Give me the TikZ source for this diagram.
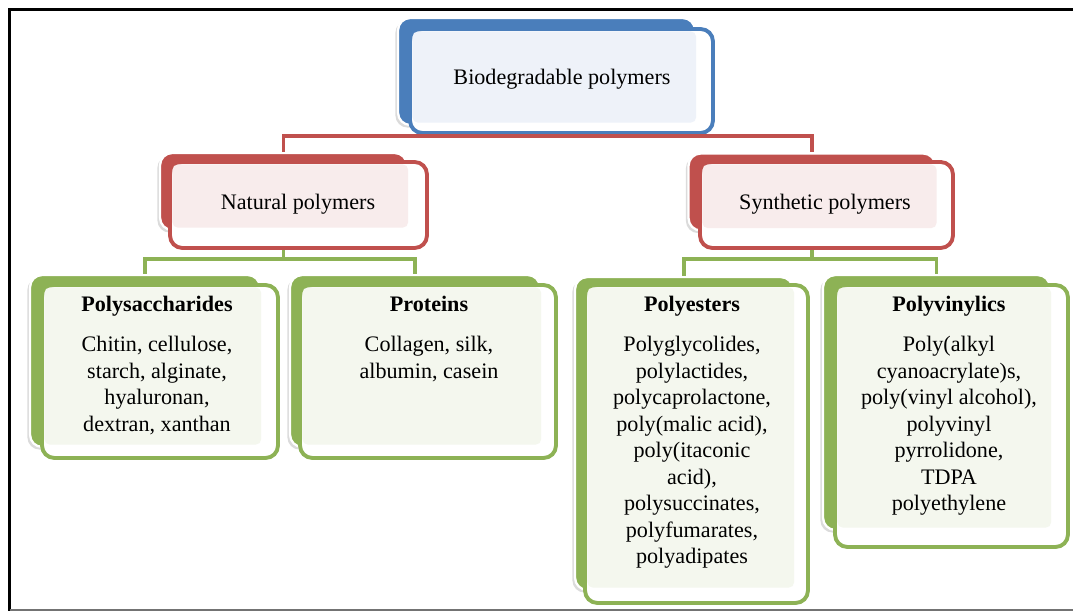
\documentclass[tikz,border=0pt]{standalone}
\usepackage{fontspec}
\setmainfont{Liberation Serif}
\usetikzlibrary{positioning}
\definecolor{topblue}{HTML}{4A7EBB}
\definecolor{topfill}{HTML}{EEF2F9}
\definecolor{midred}{HTML}{C0504D}
\definecolor{midfill}{HTML}{F8ECEC}
\definecolor{leafgreen}{HTML}{8DB255}
\definecolor{leaffill}{HTML}{F4F7EE}
\tikzset{back/.style={rectangle, rounded corners=7pt, draw=white, line width=1.3pt,
                      preaction={fill=black!14, transform canvas={xshift=-1.5pt, yshift=-1.5pt}}},
         front/.style={rectangle, rounded corners=7pt, fill=white, line width=2.2pt},
         tint/.style={rounded corners=3pt},
         lbl/.style={align=center, inner sep=0pt, font=\fontsize{12.6}{15.1}\selectfont},
         bus/.style={line width=2.2pt},
        }

\begin{document}
\begin{tikzpicture}[x=0.02cm, y=-0.02cm]
        \useasboundingbox (0,0) rectangle (1073,611);
        % frame
        \draw[line width=1.7pt] (9.5,611) -- (9.5,9.5) -- (1073,9.5);
        \draw[black!55, line width=1.2pt] (9.5,610.3) -- (1073,610.3);

        % top
        \node[back, fill=topblue, minimum width=5.94cm, minimum height=2.14cm](topback)at(546.5,71.5){};
        \node[front, draw=topblue, minimum width=6.06cm, minimum height=2.08cm](topfront)at(561.5,81){};
        \fill[tint, topfill]([shift={(2.5pt,-2.5pt)}]topfront.north west) rectangle ([shift={(0pt,2pt)}]topback.south east);
        \node[lbl](toptxt)at(562,79){Biodegradable polymers};

        % second level
        \node[back, fill=midred, minimum width=4.94cm, minimum height=1.54cm](natback)at(283.5,191.5){};
        \node[front, draw=midred, minimum width=5.14cm, minimum height=1.72cm](natfront)at(298.5,205){};
        \fill[tint, midfill]([shift={(2.5pt,-2.5pt)}]natfront.north west) rectangle ([shift={(0pt,2pt)}]natback.south east);
        \node[lbl](nattxt)at(298,204){Natural polymers};

        \node[back, fill=midred, minimum width=4.94cm, minimum height=1.54cm](synback)at(812,192){};
        \node[front, draw=midred, minimum width=5.06cm, minimum height=1.72cm](synfront)at(826.5,205){};
        \fill[tint, midfill]([shift={(2.5pt,-2.5pt)}]synfront.north west) rectangle ([shift={(0pt,2pt)}]synback.south east);
        \node[lbl](syntxt)at(825,204){Synthetic polymers};

        % leaves
        \node[back, fill=leafgreen, minimum width=4.6cm, minimum height=3.44cm](sacback)at(145,361){};
        \node[front, draw=leafgreen, minimum width=4.72cm, minimum height=3.46cm](sacfront)at(160,371.5){};
        \fill[tint, leaffill]([shift={(2.5pt,-2.5pt)}]sacfront.north west) rectangle ([shift={(0pt,2pt)}]sacback.south east);
        \node[lbl, below=0.26cm of sacfront.north, xshift=-0.06cm](sactxt){\textbf{Polysaccharides}\\[7.5pt]
            Chitin, cellulose,\\ starch, alginate,\\ hyaluronan,\\ dextran, xanthan};

        \node[back, fill=leafgreen, minimum width=5.0cm, minimum height=3.44cm](protback)at(415,361){};
        \node[front, draw=leafgreen, minimum width=5.12cm, minimum height=3.46cm](protfront)at(428,371.5){};
        \fill[tint, leaffill]([shift={(2.5pt,-2.5pt)}]protfront.north west) rectangle ([shift={(0pt,2pt)}]protback.south east);
        \node[lbl, below=0.26cm of protfront.north, xshift=0.02cm](prottxt){\textbf{Proteins}\\[7.5pt]
            Collagen, silk,\\ albumin, casein};

        \node[back, fill=leafgreen, minimum width=4.36cm, minimum height=6.26cm](estback)at(684,433.5){};
        \node[front, draw=leafgreen, minimum width=4.46cm, minimum height=6.36cm](estfront)at(696.5,444){};
        \fill[tint, leaffill]([shift={(2.5pt,-2.5pt)}]estfront.north west) rectangle ([shift={(0pt,2pt)}]estback.south east);
        \node[lbl, below=0.26cm of estfront.north, xshift=-0.09cm](esttxt){\textbf{Polyesters}\\[7.5pt]
            Polyglycolides,\\ polylactides,\\ polycaprolactone,\\ poly(malic acid),\\ poly(itaconic\\ acid),\\
            polysuccinates,\\ polyfumarates,\\ polyadipates};

        \node[back, fill=leafgreen, minimum width=4.54cm, minimum height=5.1cm](vinback)at(936.5,402.5){};
        \node[front, draw=leafgreen, minimum width=4.66cm, minimum height=5.24cm](vinfront)at(951.5,416){};
        \fill[tint, leaffill]([shift={(2.5pt,-2.5pt)}]vinfront.north west) rectangle ([shift={(0pt,2pt)}]vinback.south east);
        \node[lbl, below=0.26cm of vinfront.north, xshift=-0.05cm](vintxt){\textbf{Polyvinylics}\\[7.5pt]
            Poly(alkyl\\ cyanoacrylate)s,\\ poly(vinyl alcohol),\\ polyvinyl\\ pyrrolidone,\\ TDPA\\ polyethylene};

        % connectors
        \coordinate(topbus)at(562,136);
        \coordinate(natbus)at(283.5,259);
        \coordinate(synbus)at(812,259);
        \draw[bus, midred](topfront.south)--(topbus);
        \draw[bus, midred](natback.north)|-(topbus)-|(synback.north);
        \draw[bus, leafgreen](natback.south |- natfront.south)--(natbus);
        \draw[bus, leafgreen](sacback.north)|-(natbus)-|(protback.north);
        \draw[bus, leafgreen](synback.south |- synfront.south)--(synbus);
        \draw[bus, leafgreen](estback.north)|-(synbus)-|(vinback.north);
    \end{tikzpicture}
\end{document}
